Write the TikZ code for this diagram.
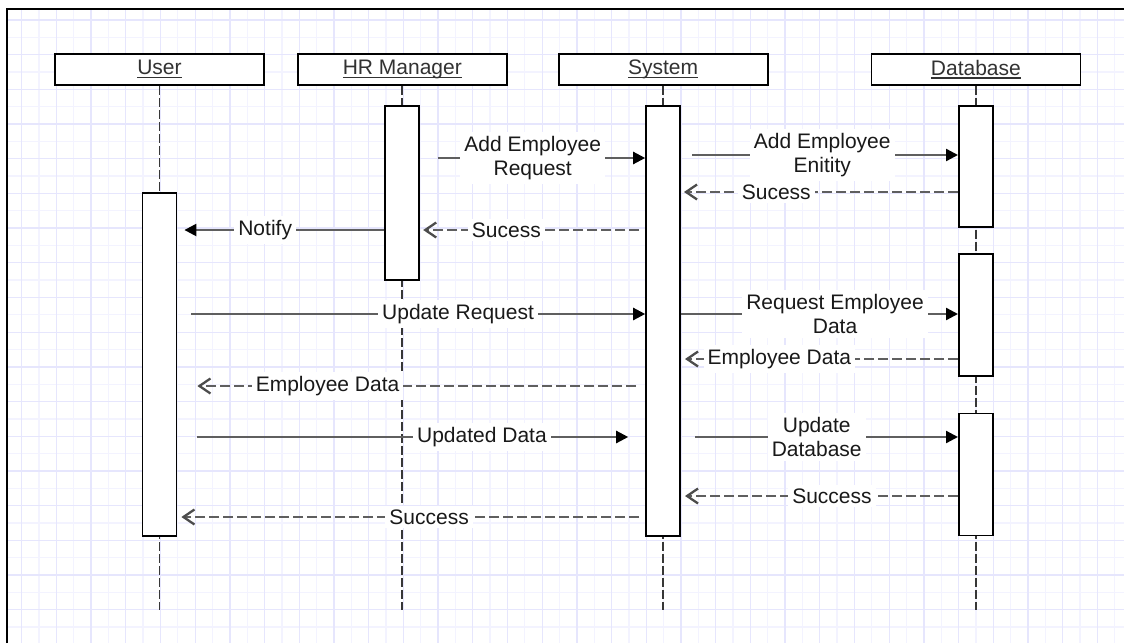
\documentclass[tikz,border=0pt]{standalone}
\usepackage{fontspec}
\setmainfont{Liberation Sans}
\usetikzlibrary{arrows.meta,positioning}

\definecolor{gridminor}{RGB}{243,243,255}
\definecolor{gridmajor}{RGB}{230,230,253}
\definecolor{msggray}{RGB}{95,95,95}
\definecolor{lifegray}{RGB}{55,55,55}
\definecolor{headtext}{RGB}{50,50,50}

% underlined object name in a lifeline head
\newcommand{\objname}[1]{\setbox0\hbox{#1}\rlap{\rule[-3.5pt]{\wd0}{1.4pt}}\box0}

\begin{document}
\begin{tikzpicture}[x=1pt,y=-1pt,font=\fontsize{21}{24}\selectfont,
  head/.style={draw,line width=1.8pt,fill=white,minimum width=209pt,minimum height=31pt,inner sep=0pt,text=headtext},
  act/.style={draw,line width=1.8pt,fill=white,minimum width=34pt,inner sep=0pt},
  life/.style={draw=lifegray,line width=1.8pt,dash pattern=on 9pt off 3pt},
  call/.style={draw=msggray,line width=2.3pt,-{Triangle[length=12pt,width=12pt,color=black]}},
  reply/.style={draw=msggray,line width=2.3pt,dash pattern=on 10pt off 4pt,-{Straight Barb[length=11pt,width=15pt,color=msggray!80!black]}},
  lbl/.style={fill=white,inner sep=4pt,align=center,text=black!90}]
  \useasboundingbox (0,0) rectangle (1124,643);

  % paper grid and frame
  \foreach \k in {2,4,...,64} \draw[gridminor,line width=1.3pt] (4.3+17.35*\k,10) -- (4.3+17.35*\k,643);
  \foreach \k in {2,4,...,36} \draw[gridminor,line width=1.3pt] (8,2.5+17.35*\k) -- (1124,2.5+17.35*\k);
  \foreach \k in {1,3,...,63} \draw[gridmajor,line width=1.3pt] (4.3+17.35*\k,10) -- (4.3+17.35*\k,643);
  \foreach \k in {1,3,...,35} \draw[gridmajor,line width=1.3pt] (8,2.5+17.35*\k) -- (1124,2.5+17.35*\k);
  \draw[line width=2pt] (7,643) -- (7,9) -- (1124,9);

  % lifeline heads
  \node[head] (user) at (159.5,69.5) {\objname{User}};
  \node[head,right=32pt of user] (hr) {\objname{HR Manager}};
  \node[head,right=50pt of hr] (sys) {\objname{System}};
  \node[head,right=102pt of sys] (db) {\objname{Database}};

  % lifelines
  \coordinate (lifeEnd) at (0,610);
  \foreach \o in {user,hr,sys,db}
    \draw[life] (\o.south) -- (\o.south |- lifeEnd);

  % activations
  \node[act,minimum height=343pt,below=106pt of user] (userAct) {};
  \node[act,minimum height=174pt,below=19pt of hr] (hrAct) {};
  \node[act,minimum height=430pt,below=19pt of sys] (sysAct) {};
  \node[act,minimum height=121pt,below=19pt of db] (dbActA) {};
  \node[act,minimum height=122pt,below=25pt of dbActA] (dbActB) {};
  \node[act,minimum height=122pt,below=36pt of dbActB] (dbActC) {};

  % message rows
  \foreach \r/\y in {r1/158,r2/155,r3/192,r4/230,r5/314,r6/359,r7/386,r8/437,r9/496,r10/517}
    \coordinate (\r) at (0,\y);

  % messages
  \draw[call,shorten <=18pt] (hrAct.east |- r1) -- node[lbl] {Add Employee\\Request} (sysAct.west |- r1);
  \draw[call,shorten <=11pt] (sysAct.east |- r2) -- node[lbl,pos=0.51] {Add Employee\\Enitity} (dbActA.west |- r2);
  \draw[reply,shorten >=3pt] (dbActA.west |- r3) -- node[lbl,pos=0.656] {Sucess} (sysAct.east |- r3);
  \draw[reply,shorten <=6pt,shorten >=3pt] (sysAct.west |- r4) -- node[lbl,pos=0.617] {Sucess} (hrAct.east |- r4);
  \draw[call,shorten >=7pt] (hrAct.west |- r4) -- node[lbl,pos=0.576] {Notify} (userAct.east |- r4);
  \draw[call,shorten <=14pt] (userAct.east |- r5) -- node[lbl,pos=0.6] {Update Request} (sysAct.west |- r5);
  \draw[call] (sysAct.east |- r5) -- node[lbl,pos=0.556] {Request Employee\\Data} (dbActB.west |- r5);
  \draw[reply,shorten >=4pt] (dbActB.west |- r6) -- node[lbl,pos=0.645] {Employee Data} (sysAct.east |- r6);
  \draw[reply,shorten <=9pt,shorten >=20pt] (sysAct.west |- r7) -- node[lbl,pos=0.679] {Employee Data} (userAct.east |- r7);
  \draw[call,shorten <=20pt,shorten >=17pt] (userAct.east |- r8) -- node[lbl,pos=0.651] {Updated Data} (sysAct.west |- r8);
  \draw[call,shorten <=14pt] (sysAct.east |- r8) -- node[lbl,pos=0.49] {Update\\Database} (dbActC.west |- r8);
  \draw[reply,shorten >=4pt] (dbActC.west |- r9) -- node[lbl,pos=0.455] {Success} (sysAct.east |- r9);
  \draw[reply,shorten <=6pt,shorten >=4pt] (sysAct.west |- r10) -- node[lbl,pos=0.462] {Success} (userAct.east |- r10);
\end{tikzpicture}
\end{document}
